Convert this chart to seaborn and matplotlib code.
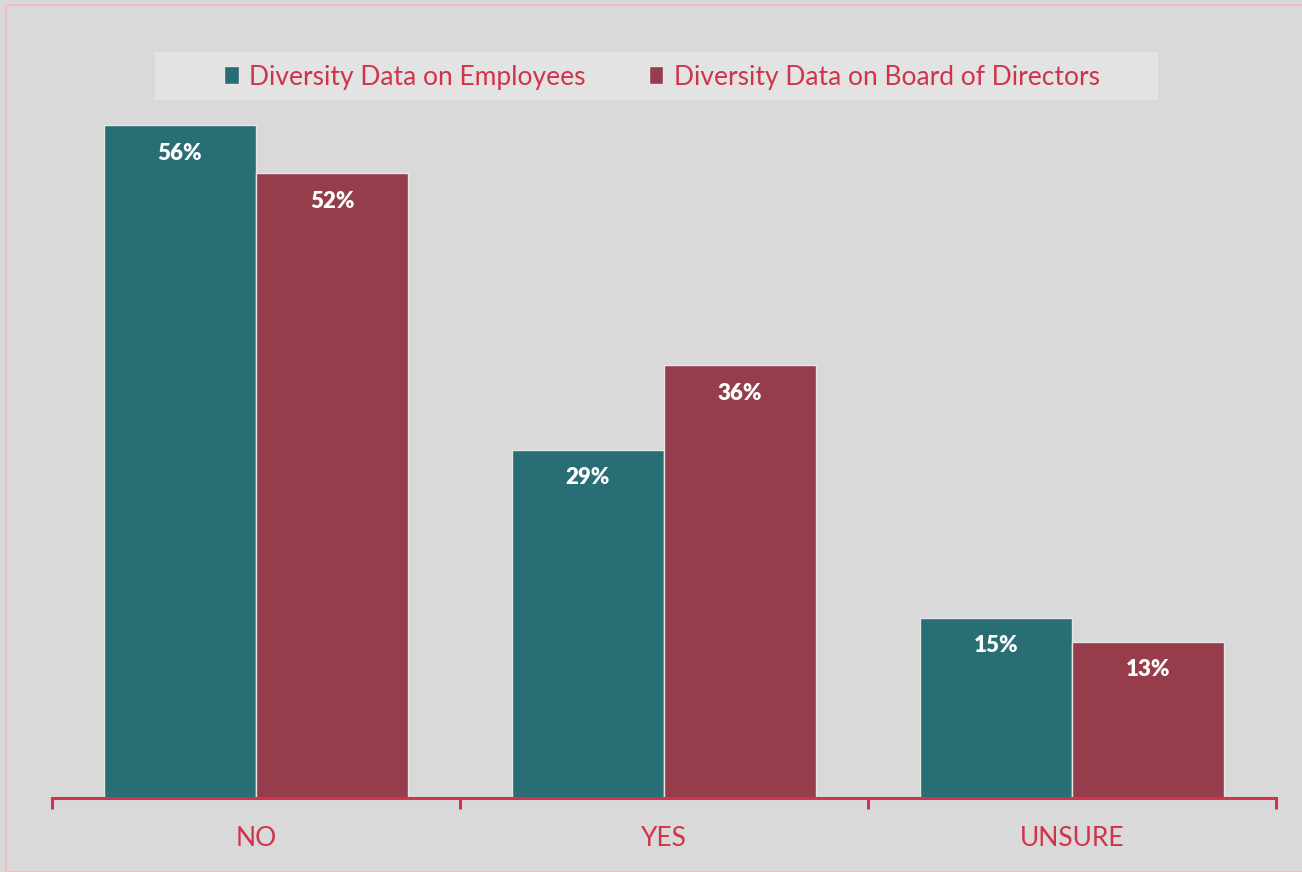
import seaborn as sns
import matplotlib.pyplot as plt
import pandas as pd
from matplotlib.patches import Rectangle

categories = ["NO", "YES", "UNSURE"]
series_names = ["Diversity Data on Employees", "Diversity Data on Board of Directors"]
employees = [56, 29, 15]
board = [52, 36, 13]

bg = "#d9d9d9"
red = "#d0344a"
colors = ["#286e74", "#963d4b"]

df = pd.DataFrame({
    "answer": categories * 2,
    "series": [series_names[0]] * 3 + [series_names[1]] * 3,
    "pct": employees + board,
})

sns.set_style("white")
plt.rcParams["font.family"] = ["Lato", "DejaVu Sans"]

fig = plt.figure(figsize=(13.02, 8.72), dpi=100, facecolor=bg)
W, H = 1302, 872
ax = fig.add_axes([52 / W, 1 - 798 / H, (1276 - 52) / W, (798 - 77) / H])
ax.set_facecolor(bg)
ax.patch.set_visible(False)

sns.barplot(data=df, x="answer", y="pct", hue="series", order=categories,
            hue_order=series_names, palette=colors, width=0.745, gap=0,
            edgecolor="#e6e6e6", linewidth=1, saturation=1, ax=ax, legend=True)

ax.set_xlim(-0.5, 2.5)
ax.set_ylim(0, 60)
ax.set_xlabel("")
ax.set_ylabel("")
ax.set_yticks([])
for s in ["top", "left", "right"]:
    ax.spines[s].set_visible(False)
ax.spines["bottom"].set_color(red)
ax.spines["bottom"].set_linewidth(2.2)
ax.set_xticks([-0.5, 0.5, 1.5, 2.5], minor=True)
ax.tick_params(axis="x", which="minor", bottom=True, length=8, width=2.2,
               color=red, direction="out")
ax.tick_params(axis="x", which="major", bottom=True, length=0, pad=20,
               labelsize=19, labelcolor=red)

for cont in ax.containers:
    for bar in cont:
        h = bar.get_height()
        ax.annotate(f"{h:.0f}%", (bar.get_x() + bar.get_width() / 2, h),
                    xytext=(0, -28), textcoords="offset pixels",
                    ha="center", va="center", color="white",
                    fontsize=16, fontweight="heavy")

# legend band
fig.patches.append(Rectangle((155 / W, 1 - 100 / H), (1158 - 155) / W, 48 / H,
                             transform=fig.transFigure, facecolor="#e3e3e3",
                             edgecolor="none", zorder=1))
handles, labels = ax.get_legend_handles_labels()
ax.get_legend().remove()
leg = fig.legend(handles, labels, loc="center", bbox_to_anchor=(662 / W, 1 - 77 / H),
                 ncol=2, frameon=False, fontsize=19, handlelength=0.55,
                 handleheight=0.65, handletextpad=0.4, columnspacing=2.4)
for t in leg.get_texts():
    t.set_color(red)

# thin pink outline of the chart area
fig.patches.append(Rectangle((5.5 / W, 0), 1, 1 - 5.5 / H, transform=fig.transFigure,
                             facecolor="none", edgecolor="#f2bcc4", linewidth=1.5,
                             zorder=0))

fig.savefig("out.png", dpi=100, facecolor=bg)
